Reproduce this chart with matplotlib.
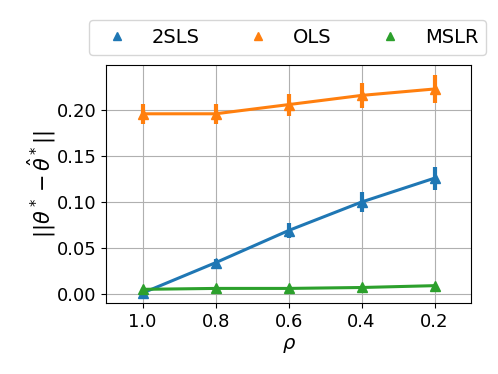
import numpy as np
import matplotlib.pyplot as plt
from matplotlib.lines import Line2D

rho = [1.0, 0.8, 0.6, 0.4, 0.2]
err_2sls = [0.001, 0.034, 0.069, 0.100, 0.126]
std_2sls = [0.003, 0.004, 0.008, 0.011, 0.0125]
err_ols = [0.196, 0.196, 0.206, 0.216, 0.223]
std_ols = [0.011, 0.011, 0.012, 0.0135, 0.015]
err_mslr = [0.005, 0.006, 0.006, 0.007, 0.009]
std_mslr = [0.001, 0.001, 0.001, 0.001, 0.001]

plt.rcParams['font.size'] = 13

fig = plt.figure(figsize=(4.98, 3.74), dpi=100)
ax = fig.add_axes([0.213, 0.19, 0.733, 0.636])

series = [('2SLS', err_2sls, std_2sls, 'C0'),
          ('OLS', err_ols, std_ols, 'C1'),
          ('MSLR', err_mslr, std_mslr, 'C2')]
handles = []
for name, y, s, c in series:
    ax.errorbar(rho, y, yerr=s, color=c, marker='^', markersize=7,
                linewidth=2.2, elinewidth=3, ecolor=c)
    handles.append(Line2D([], [], color=c, marker='^', linestyle='none',
                          markersize=6, label=name))

ax.set_xticks(rho)
ax.set_xlim(1.1, 0.1)
ax.set_ylim(-0.0098, 0.249)
ax.set_yticks([0.0, 0.05, 0.10, 0.15, 0.20])
ax.grid(True)
ax.set_xlabel(r'$\rho$', fontsize=14)
ax.set_ylabel(r'$||\theta^* - \hat{\theta}^*||$', fontsize=15, labelpad=-1)

fig.legend(handles=handles, ncol=3, loc='lower center',
           bbox_to_anchor=(0.578, 0.853), fontsize=14, borderaxespad=0)

plt.savefig('out.png', dpi=100)
